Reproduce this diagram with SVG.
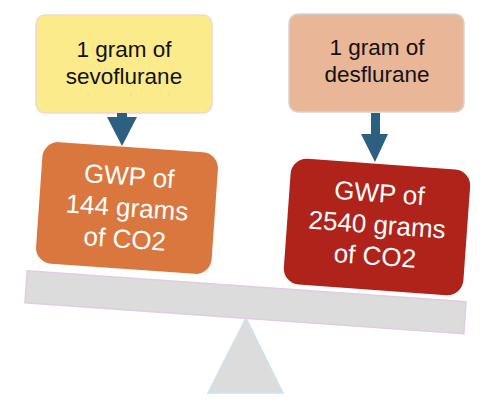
<svg xmlns="http://www.w3.org/2000/svg" width="492" height="416" viewBox="0 0 492 416">
  <style>
    .lbl { font-family: "Liberation Sans", Arial, sans-serif; text-anchor: middle; }
    .top { font-size: 22.5px; fill: #111111; }
    .gwp { font-size: 26px; fill: #ffffff; }
    .arrow { fill: #2D5F80; }
  </style>
  <rect width="492" height="416" fill="#ffffff"/>

  <g id="fulcrum">
    <polygon points="246,318 283,393 208,393" fill="#DCDCDC" stroke="#CFE1F2" stroke-width="1.5"/>
  </g>
  <g id="beam">
    <rect x="25.5" y="286.25" width="440" height="32" transform="rotate(4.04 245.5 302.25)" fill="#DCDCDC" stroke="#E2CCE0" stroke-width="1.5"/>
  </g>

  <g id="sevo">
    <rect x="36" y="15" width="176" height="98" rx="9" fill="#FCEB8B" stroke="#F2D8CF" stroke-width="1.5"/>
    <text class="lbl top" x="124" y="57">1 gram of</text>
    <text class="lbl top" x="124" y="84">sevoflurane</text>
  </g>

  <g id="des">
    <rect x="289" y="14" width="175" height="98" rx="9" fill="#E9B697" stroke="#CFD8D0" stroke-width="1.5"/>
    <text class="lbl top" x="377" y="55">1 gram of</text>
    <text class="lbl top" x="377" y="82">desflurane</text>
  </g>

  <g id="gwp-sevo" transform="translate(127 208) rotate(4)">
    <rect x="-88" y="-61" width="176" height="122" rx="16" fill="#D9773F"/>
    <text class="lbl gwp" x="0" y="-23">GWP of</text>
    <text class="lbl gwp" x="0" y="8.5">144 grams</text>
    <text class="lbl gwp" x="0" y="40">of CO2</text>
  </g>

  <g id="gwp-des" transform="translate(377 227) rotate(4.1)">
    <rect x="-90" y="-63" width="180" height="126" rx="16" fill="#B0231A"/>
    <text class="lbl gwp" x="0" y="-25">GWP of</text>
    <text class="lbl gwp" x="0" y="6.5">2540 grams</text>
    <text class="lbl gwp" x="0" y="38">of CO2</text>
  </g>

  <g id="connectors">
    <polygon class="arrow" points="117,113 127,113 127,117 137,117 122,146 107,117 117,117"/>
    <polygon class="arrow" points="371,113 380,113 380,134 388,134 375,162 361,134 371,134"/>
  </g>
</svg>
